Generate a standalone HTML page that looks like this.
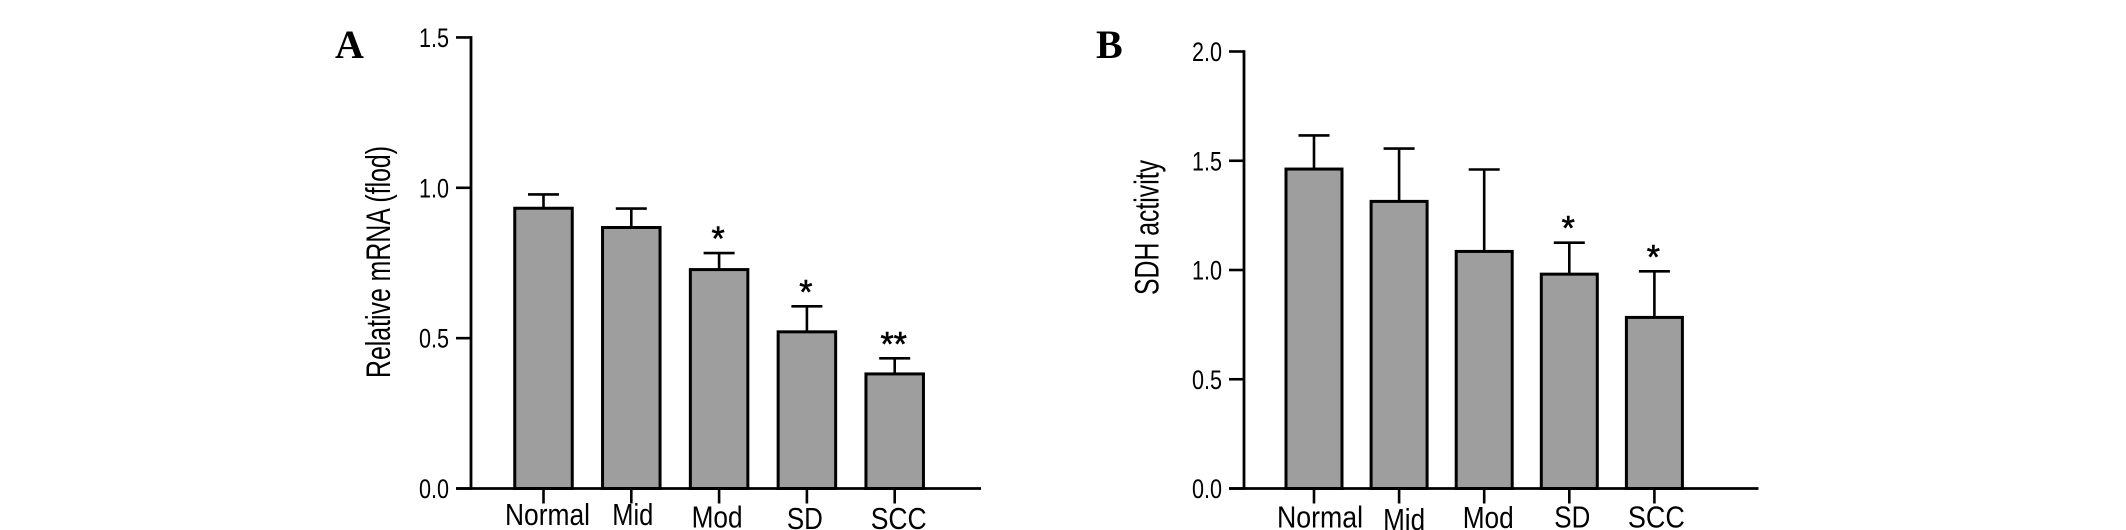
<!DOCTYPE html>
<html lang="en">
<head>
<meta charset="utf-8">
<title>Relative mRNA and SDH activity bar charts</title>
<style>
html,body{margin:0;padding:0;background:#fff;width:2126px;height:530px;overflow:hidden}
svg{display:block}
text{font-family:"Liberation Sans",sans-serif;fill:#000}
.letter{font-family:"Liberation Serif",serif;font-weight:bold;font-size:40px}
</style>
</head>
<body>
<svg id="chart" width="2126" height="530" viewBox="0 0 2126 530" xmlns="http://www.w3.org/2000/svg">
  <text class="letter" x="335" y="58">A</text>
  <text class="letter" x="1096" y="58">B</text>
  <text font-size="34" text-anchor="middle" textLength="232" lengthAdjust="spacingAndGlyphs" transform="translate(390 262) rotate(-90)">Relative mRNA (flod)</text>
  <text font-size="34" text-anchor="middle" textLength="135" lengthAdjust="spacingAndGlyphs" transform="translate(1158.5 227.5) rotate(-90)">SDH activity</text>
  <g id="panel-a"></g>
  <g id="panel-b"></g>
</svg>
<script>
// Data
const categories = ['Normal', 'Mid', 'Mod', 'SD', 'SCC'];
const valuesA = [0.932, 0.868, 0.728, 0.521, 0.381];
const errorTopsA = [0.978, 0.931, 0.783, 0.606, 0.433];
const marksA = ['', '', '*', '*', '**'];
const tickValuesA = [0, 0.5, 1, 1.5];
const tickLabelsA = ['0.0', '0.5', '1.0', '1.5'];
const valuesB = [1.462, 1.314, 1.085, 0.981, 0.783];
const errorTopsB = [1.616, 1.556, 1.46, 1.125, 0.994];
const marksB = ['', '', '', '*', '*'];
const tickValuesB = [0, 0.5, 1, 1.5, 2];
const tickLabelsB = ['0.0', '0.5', '1.0', '1.5', '2.0'];

const NS = 'http://www.w3.org/2000/svg';
function make(tag, attrs, parent) {
  const n = document.createElementNS(NS, tag);
  for (const k in attrs) n.setAttribute(k, attrs[k]);
  parent.appendChild(n);
  return n;
}

function drawPanel(cfg) {
  const g = document.getElementById(cfg.id);
  const yScale = v => cfg.y0 - v * cfg.pxPerUnit;
  const xScale = i => cfg.x0 + i * cfg.step;

  cfg.values.forEach((v, i) => {
    const cx = xScale(i);
    const stem = make('line', {x1: cx, x2: cx, y1: yScale(v), y2: yScale(cfg.errorTops[i]), stroke: '#000', 'stroke-width': 2.6}, g);
    
    
    const cap = make('line', {x1: cx - 15.5, x2: cx + 15.5, y1: yScale(cfg.errorTops[i]), y2: yScale(cfg.errorTops[i]), stroke: '#000', 'stroke-width': 2.6}, g);
    
    
    const bar = make('rect', {x: cx - cfg.barW / 2, y: yScale(v), width: cfg.barW, height: cfg.y0 - yScale(v), fill: '#9e9e9e', stroke: '#000', 'stroke-width': 3}, g);
    
    
    if (cfg.marks[i]) {
      const star = make('text', {x: cx - 1, y: yScale(cfg.errorTops[i]) - 3, 'font-size': 34, 'text-anchor': 'middle', stroke: '#000', 'stroke-width': 0.6}, g);
      star.textContent = cfg.marks[i];
      
      
    }
    const tick = make('line', {x1: cx, x2: cx, y1: cfg.y0, y2: cfg.y0 + 15, stroke: '#000', 'stroke-width': 2.6}, g);
    
    
    const label = make('text', {x: cx + cfg.labelDx[i], y: cfg.labelY[i], 'font-size': 31, 'text-anchor': 'middle', textLength: cfg.labelW[i], lengthAdjust: 'spacingAndGlyphs'}, g);
    label.textContent = categories[i];
    
    
  });

  cfg.tickValues.forEach((v, i) => {
    const y = yScale(v);
    const tick = make('line', {x1: cfg.axisX - 15, x2: cfg.axisX, y1: y, y2: y, stroke: '#000', 'stroke-width': 2.6}, g);
    
    
    const label = make('text', {x: cfg.axisX - 22, y: y + 9.5, 'font-size': 27, 'text-anchor': 'end', textLength: 30, lengthAdjust: 'spacingAndGlyphs'}, g);
    label.textContent = cfg.tickLabels[i];
    
    
  });

  const topValue = cfg.tickValues[cfg.tickValues.length - 1];
  const yAxis = make('line', {x1: cfg.axisX, x2: cfg.axisX, y1: yScale(topValue) - 1.3, y2: cfg.y0 + 1.3, stroke: '#000', 'stroke-width': 2.8}, g);
  
  
  const xAxis = make('line', {x1: cfg.axisX - 15, x2: cfg.axisEnd, y1: cfg.y0, y2: cfg.y0, stroke: '#000', 'stroke-width': 2.8}, g);
  
  
}

drawPanel({
  id: 'panel-a', values: valuesA, errorTops: errorTopsA, marks: marksA,
  tickValues: tickValuesA, tickLabels: tickLabelsA,
  axisX: 471, axisEnd: 981, y0: 488.5, pxPerUnit: 300.7,
  x0: 543.5, step: 87.8, barW: 57.5,
  labelDx: [4, 1.5, -2, -2, 4],
  labelY: [525, 525, 527.5, 529, 529],
  labelW: [85, 41, 51, 36, 56]
});
drawPanel({
  id: 'panel-b', values: valuesB, errorTops: errorTopsB, marks: marksB,
  tickValues: tickValuesB, tickLabels: tickLabelsB,
  axisX: 1244, axisEnd: 1758.5, y0: 488.5, pxPerUnit: 218.5,
  x0: 1314, step: 85.1, barW: 56,
  labelDx: [6, 5, 4, 3, 2],
  labelY: [527.5, 530, 528, 527.5, 527.5],
  labelW: [86, 42, 51, 36, 57]
});
</script>
</body>
</html>
